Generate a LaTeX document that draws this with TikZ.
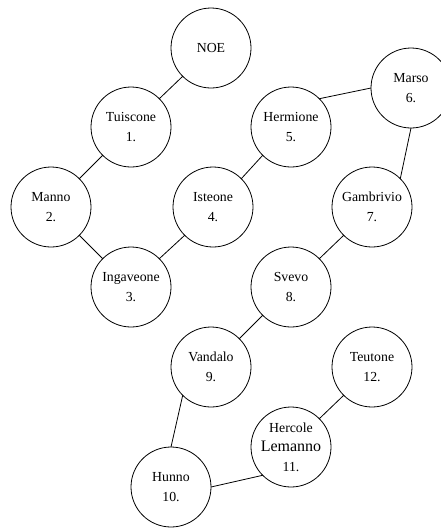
\documentclass[tikz,border=0pt]{standalone}
\usepackage{fontspec}
\setmainfont{Liberation Serif}
\begin{document}
\begin{tikzpicture}[x=1pt, y=-1pt, line width=0.8pt,
    tribe/.style={draw, circle, minimum size=80pt, inner sep=0pt, outer sep=0pt,
      align=center, font=\fontsize{13.8}{19.5}\selectfont}]
  \useasboundingbox (0, 0) rectangle (441, 528);
  \node[tribe] (noe) at (211, 48) {NOE};
  \node[tribe] (tuiscone) at (131, 127) {Tuiscone\\1.};
  \node[tribe] (manno) at (51, 207) {Manno\\2.};
  \node[tribe] (ingaveone) at (131, 287) {Ingaveone\\3.};
  \node[tribe] (isteone) at (213, 207) {Isteone\\4.};
  \node[tribe] (hermione) at (291, 127) {Hermione\\5.};
  \node[tribe] (marso) at (411, 88) {Marso\\6.};
  \node[tribe] (gambrivio) at (372, 207) {Gambrivio\\7.};
  \node[tribe] (svevo) at (291, 287) {Svevo\\8.};
  \node[tribe] (vandalo) at (211, 367) {Vandalo\\9.};
  \node[tribe] (hunno) at (171, 487) {Hunno\\10.};
  \node[tribe] (hercole) at (291, 447) {Hercole\\{\fontsize{16}{19.5}\selectfont Lemanno}\\11.};
  \node[tribe] (teutone) at (372, 367) {Teutone\\12.};
  \draw (noe.south west) -- (tuiscone.north east);
  \draw (tuiscone.south west) -- (manno.north east);
  \draw (manno.south east) -- (ingaveone.north west);
  \draw (ingaveone.north east) -- (isteone.south west);
  \draw (isteone.north east) -- (hermione.south west);
  \draw (hermione.north east) -- (marso.west);
  \draw (marso.south) -- (gambrivio.north east);
  \draw (gambrivio.south west) -- (svevo.north east);
  \draw (svevo.south west) -- (vandalo.north east);
  \draw (vandalo.south west) -- (hunno.north);
  \draw (hunno.east) -- (hercole.south west);
  \draw (hercole.north east) -- (teutone.south west);
\end{tikzpicture}
\end{document}
